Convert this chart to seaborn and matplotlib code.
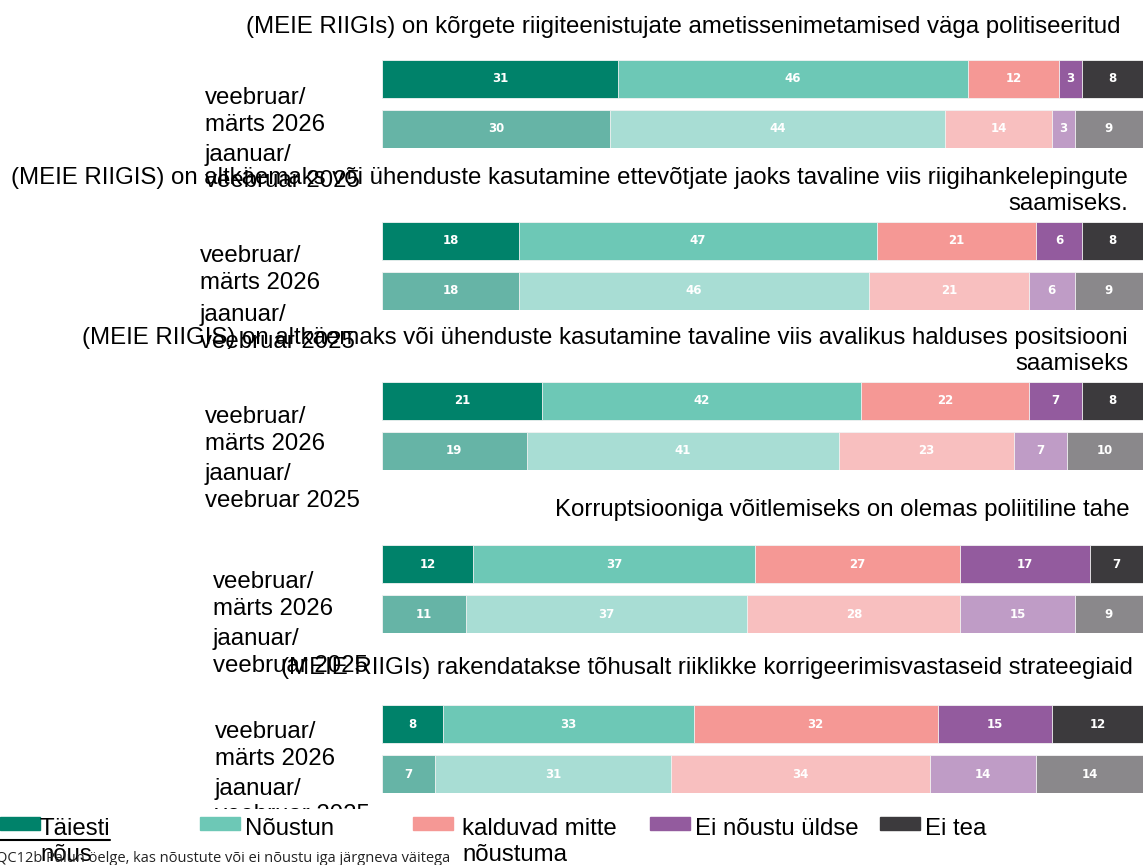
import numpy as np
import pandas as pd
import seaborn as sns
import matplotlib.pyplot as plt
from matplotlib.patches import Rectangle
from matplotlib.lines import Line2D
from matplotlib.transforms import ScaledTranslation, Bbox, TransformedBbox

# ---- data ----
categories = ["Täiesti\nnõus", "Nõustun", "kalduvad mitte\nnõustuma", "Ei nõustu üldse", "Ei tea"]
periods = ["veebruar/\nmärts 2026", "jaanuar/\nveebruar 2025"]

titles = [
    "(MEIE RIIGIs) on kõrgete riigiteenistujate ametissenimetamised väga politiseeritud",
    "(MEIE RIIGIS) on altkäemaks või ühenduste kasutamine ettevõtjate jaoks tavaline viis riigihankelepingute\nsaamiseks.",
    "(MEIE RIIGIS) on altkäemaks või ühenduste kasutamine tavaline viis avalikus halduses positsiooni\nsaamiseks",
    "Korruptsiooniga võitlemiseks on olemas poliitiline tahe",
    "(MEIE RIIGIs) rakendatakse tõhusalt riiklikke korrigeerimisvastaseid strateegiaid",
]

vals_2026 = [
    [31, 46, 12, 3, 8],
    [18, 47, 21, 6, 8],
    [21, 42, 22, 7, 8],
    [12, 37, 27, 17, 7],
    [8, 33, 32, 15, 12],
]
vals_2025 = [
    [30, 44, 14, 3, 9],
    [18, 46, 21, 6, 9],
    [19, 41, 23, 7, 10],
    [11, 37, 28, 15, 9],
    [7, 31, 34, 14, 14],
]

dark_colors = ["#00826a", "#6dc8b6", "#f59895", "#935b9e", "#3c3a3d"]
light_colors = ["#66b4a6", "#a8ddd4", "#f8bfbf", "#bf9cc6", "#8a888b"]

# ---- layout (pixels) ----
W, H = 1143, 865
bar_left = 382
bar_tops = [60, 222, 382, 545, 705]
title_pos = [(1120, 27), (1128, 191), (1128, 351), (1130, 510), (1133, 668)]
label_x = [205, 200, 205, 213, 215]
# px the period labels sit below their bars, per panel
label_drop = [(28, 34), (24, 33), (25, 32), (27, 34), (17, 23)]
chart_bottom = 809     # labels are cut off above the legend strip

sns.set_style("white")
plt.rcParams["font.family"] = ["Liberation Sans", "DejaVu Sans"]
plt.rcParams["text.color"] = "black"
plt.rcParams["ytick.color"] = "black"
FS = 17.3
LS = 1.25

fig = plt.figure(figsize=(W / 100, H / 100), dpi=100)
clip = TransformedBbox(Bbox([[0, 1 - chart_bottom / H], [1, 1]]), fig.transFigure)

for i in range(len(titles)):
    top = bar_tops[i]
    ax = fig.add_axes([bar_left / W, 1 - (top + 88) / H, (W - bar_left) / W, 88 / H])

    rows = []
    for p, vals in zip(periods, [vals_2026[i], vals_2025[i]]):
        cum = np.cumsum(vals)
        for c, v, cv in zip(categories, vals, cum):
            rows.append({"period": p, "category": c, "value": v, "cum": cv, "mid": cv - v / 2})
    df = pd.DataFrame(rows)

    # stacked bars: cumulative totals drawn from the last category to the first
    for k in range(len(categories) - 1, -1, -1):
        sub = df[df["category"] == categories[k]]
        sns.barplot(data=sub, x="cum", y="period", hue="period", order=periods,
                    hue_order=periods, palette=[dark_colors[k], light_colors[k]],
                    orient="h", width=0.76, legend=False, ax=ax, saturation=1,
                    edgecolor="#f4f4f4", linewidth=0.6)

    for _, r in df.iterrows():
        ax.text(r["mid"], periods.index(r["period"]), str(r["value"]),
                ha="center", va="center", color="white", fontsize=8.5,
                fontweight="bold", family="DejaVu Sans")

    ax.set_xlim(0, 100)
    ax.set_ylim(1.38, -0.38)
    ax.set_xlabel("")
    ax.set_ylabel("")
    ax.set_xticks([])
    sns.despine(ax=ax, left=True, bottom=True)
    ax.tick_params(axis="y", length=0, pad=(bar_left - label_x[i]) * 0.72)
    for lab, drop in zip(ax.get_yticklabels(), label_drop[i]):
        lab.set_horizontalalignment("left")
        lab.set_fontsize(FS)
        lab.set_linespacing(LS)
        lab.set_transform(lab.get_transform() + ScaledTranslation(0, -drop / 100, fig.dpi_scale_trans))
        lab.set_clip_box(clip)
        lab.set_clip_on(True)

    tx, ty = title_pos[i]
    fig.text(tx / W, 1 - ty / H, titles[i], ha="right", va="center",
             multialignment="right", fontsize=FS, linespacing=LS)

# ---- legend ----
leg_patch_x = [0, 200, 413, 650, 880]
leg_text_x = [40, 245, 462, 695, 925]
for k, c in enumerate(categories):
    fig.patches.append(Rectangle((leg_patch_x[k] / W, 1 - 830 / H), 40 / W, 13 / H,
                                 transform=fig.transFigure, color=dark_colors[k]))
    fig.text(leg_text_x[k] / W, 1 - 818 / H, c, ha="left", va="top",
             fontsize=FS, linespacing=LS)
fig.lines.append(Line2D([0, 110 / W], [1 - 840 / H, 1 - 840 / H],
                        transform=fig.transFigure, color="black", linewidth=1.5))

fig.text(-4 / W, 1 - 859 / H,
         "QC12b Palun öelge, kas nõustute või ei nõustu iga järgneva väitega",
         ha="left", va="center", fontsize=10.5, family="Open Sans", color="#222222")

fig.savefig("out.png", dpi=100)
